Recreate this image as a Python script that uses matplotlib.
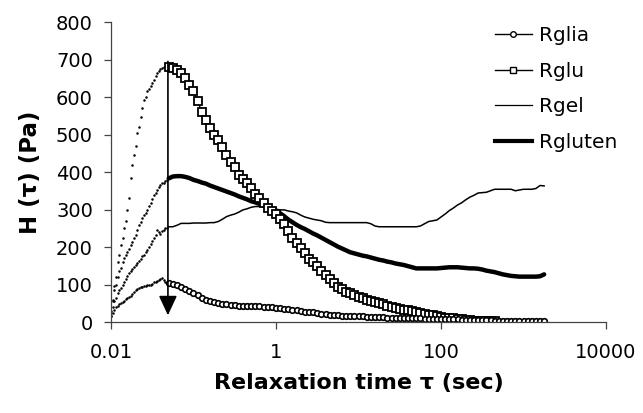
import numpy as np
import matplotlib
matplotlib.use('Agg')
import matplotlib.pyplot as plt
from matplotlib.lines import Line2D

# rising part (dots), log10(tau) from -2.00 to -1.32, step 0.02
log_tau_rise = np.round(np.arange(-2.00, -1.319, 0.02), 2)
glia_rise = [15, 25, 32, 40, 44, 47, 52, 54, 57, 62, 63, 68, 70, 75, 80, 86, 88, 90,
             93, 94, 96, 97, 99, 99, 100, 102, 106, 108, 110, 113, 115, 117, 112, 108, 105]
glu_rise = [15, 55, 95, 120, 160, 180, 205, 225, 250, 270, 300, 330, 385, 420, 445, 470, 505, 520,
            548, 570, 592, 600, 615, 622, 630, 638, 645, 655, 665, 670, 675, 678, 681, 683, 685]
gel_rise = [25, 40, 55, 65, 77, 85, 92, 100, 108, 115, 122, 130, 137, 142, 148, 152, 158, 163,
            168, 175, 180, 186, 192, 200, 208, 215, 225, 232, 245, 240, 236, 243, 246, 250, 252]
gluten_rise = [30, 60, 85, 100, 120, 135, 145, 160, 170, 180, 188, 196, 205, 214, 224, 232, 245, 258,
               268, 278, 285, 292, 300, 310, 318, 328, 338, 345, 352, 360, 365, 370, 372, 376, 380]

# relaxation spectra, log10(tau) from -1.30 step 0.05
log_tau = np.round(np.arange(-1.30, 3.2501, 0.05), 2)
rglia = [103, 102, 99, 94, 88, 82, 77, 71, 65, 60, 56, 53, 51, 49, 47, 46, 45, 44, 44, 44,
         43, 43, 42, 41, 41, 40, 38, 37, 35, 34, 32, 31, 30, 28, 27, 26, 24, 22, 21, 20,
         19, 18, 17, 17, 16, 16, 15, 15, 14, 14, 13, 13, 13, 12, 12, 12, 11, 11, 11, 10,
         10, 10, 9, 9, 9, 8, 8, 8, 7, 7, 7, 6, 6, 6, 6, 5, 5, 5, 5, 4,
         4, 4, 4, 3, 3, 3, 3, 3, 2, 2, 2, 2]
rglu = [681, 677, 671, 664, 652, 633, 615, 590, 560, 540, 517, 500, 485, 466, 445, 427, 413, 393, 381, 372,
        357, 342, 330, 318, 305, 296, 287, 274, 261, 243, 225, 210, 198, 184, 168, 160, 150, 136, 125, 115,
        105, 93, 87, 81, 77, 72, 68, 64, 60, 56, 53, 50, 47, 44, 41, 38, 36, 33, 31, 29,
        27, 25, 22, 20, 18, 16, 14, 12, 11, 10, 8, 7, 6, 5, 4, 4, 3, 3, 3, 3]
rgel = [254, 254, 258, 263, 263, 263, 264, 264, 264, 264, 265, 265, 268, 274, 281, 285, 288, 293, 299, 302,
        306, 308, 308, 308, 305, 303, 301, 299, 299, 296, 294, 291, 285, 280, 277, 274, 272, 270, 266, 265,
        265, 265, 265, 265, 265, 265, 265, 265, 265, 262, 256, 254, 254, 254, 254, 254, 254, 254, 254, 254,
        254, 256, 262, 268, 270, 272, 280, 288, 297, 304, 312, 318, 326, 333, 338, 344, 345, 346, 350, 354,
        354, 354, 354, 354, 350, 352, 354, 354, 354, 356, 364, 363]
rgluten = [383, 388, 389, 389, 387, 384, 379, 376, 372, 369, 364, 360, 356, 352, 348, 344, 340, 335, 331, 327,
           322, 319, 315, 311, 307, 302, 296, 290, 282, 273, 266, 259, 253, 248, 242, 236, 231, 225, 219, 213,
           207, 201, 196, 191, 186, 183, 180, 177, 175, 172, 169, 166, 164, 161, 159, 156, 154, 152, 149, 146,
           143, 143, 143, 143, 143, 143, 144, 145, 146, 146, 146, 145, 144, 143, 143, 142, 140, 137, 135, 133,
           130, 127, 125, 123, 122, 121, 121, 121, 121, 121, 122, 127]

arrow_tau = 0.049
arrow_top = 695
arrow_tip = 18

tau_rise = 10.0 ** log_tau_rise
tau = 10.0 ** log_tau

fig = plt.figure(figsize=(6.43, 4.13), dpi=100)
ax = fig.add_axes([0.1726, 0.2203, 0.7699, 0.7264])

for vals in (glia_rise, glu_rise, gel_rise, gluten_rise):
    ax.plot(tau_rise, vals, linestyle='none', marker='o', markersize=1.8,
            color='black', markeredgewidth=0)

ax.plot(tau, rgluten, color='black', lw=3.2, solid_capstyle='round')
ax.plot(tau, rgel, color='black', lw=1.1)
ax.plot(tau[:len(rglu)], rglu, color='black', lw=1, marker='s', markersize=6,
        markerfacecolor='white', markeredgecolor='black', markeredgewidth=1.3)
ax.plot(tau, rglia, color='black', lw=1, marker='o', markersize=4,
        markerfacecolor='white', markeredgecolor='black', markeredgewidth=1.2)

ax.annotate('', xy=(arrow_tau, arrow_tip), xytext=(arrow_tau, arrow_top),
            arrowprops=dict(arrowstyle='-|>,head_length=0.6,head_width=0.28',
                            mutation_scale=20, color='black', lw=1.2,
                            shrinkA=0, shrinkB=0))

ax.set_xscale('log')
ax.set_xlim(0.01, 10000)
ax.set_ylim(0, 800)
ax.set_xticks([0.01, 1, 100, 10000])
ax.set_xticklabels(['0.01', '1', '100', '10000'])
ax.xaxis.set_minor_locator(matplotlib.ticker.NullLocator())
ax.set_yticks(range(0, 801, 100))

for s in ('top', 'right'):
    ax.spines[s].set_visible(False)
for s in ('left', 'bottom'):
    ax.spines[s].set_color('#444444')
    ax.spines[s].set_linewidth(0.9)

ax.tick_params(axis='both', direction='out', length=5, width=0.9, color='#444444',
               labelsize=14)
ax.tick_params(axis='y', pad=8)
ax.tick_params(axis='x', pad=10)

ax.set_xlabel('Relaxation time τ (sec)', fontsize=16, fontweight='bold', labelpad=8)
ax.set_ylabel('H (τ) (Pa)', fontsize=16.5, fontweight='bold', labelpad=10)

handles = [
    Line2D([], [], color='black', lw=1, marker='o', markersize=4,
           markerfacecolor='white', markeredgewidth=1),
    Line2D([], [], color='black', lw=1, marker='s', markersize=5,
           markerfacecolor='white', markeredgewidth=1),
    Line2D([], [], color='black', lw=0.9),
    Line2D([], [], color='black', lw=3),
]
ax.legend(handles, ['Rglia', 'Rglu', 'Rgel', 'Rgluten'], loc='upper left',
          bbox_to_anchor=(0.755, 1.02), frameon=False, fontsize=14.5,
          handlelength=1.85, handletextpad=0.35, labelspacing=0.82, borderpad=0)

fig.savefig('out.png', dpi=100)
